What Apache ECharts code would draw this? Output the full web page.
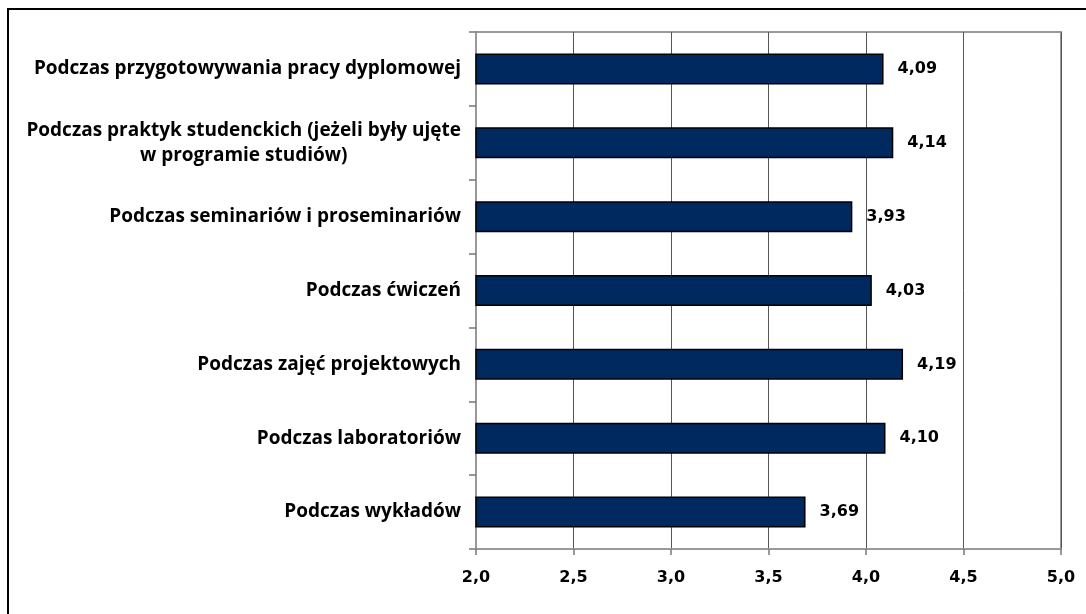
<!DOCTYPE html>
<html>
<head>
<meta charset="utf-8">
<script src="https://cdn.jsdelivr.net/npm/echarts@6/dist/echarts.min.js"></script>
<style>
html,body{margin:0;padding:0;background:#fff;}
#main{width:1086px;height:614px;}
</style>
</head>
<body>
<div id="main"></div>
<script>
const categories = [
  'Podczas przygotowywania pracy dyplomowej',
  'Podczas praktyk studenckich (jeżeli były ujęte\nw programie studiów)',
  'Podczas seminariów i proseminariów',
  'Podczas ćwiczeń',
  'Podczas zajęć projektowych',
  'Podczas laboratoriów',
  'Podczas wykładów'
];
const values = [4.09, 4.14, 3.93, 4.03, 4.19, 4.10, 3.69];
const axisMin = 2.0, axisMax = 5.0, axisStep = 0.5;

const fmt = (v, d) => v.toFixed(d).replace('.', ',');

const chart = echarts.init(document.getElementById('main'), null, {renderer: 'canvas'});
chart.setOption({
  backgroundColor: '#fff',
  animation: false,
  graphic: [{
    type: 'rect', silent: true, z: 100,
    shape: {x: 8, y: 9, width: 1200, height: 800},
    style: {fill: 'none', stroke: '#000', lineWidth: 2}
  }],
  grid: {left: 476, right: 25, top: 32, bottom: 65, show: true, borderColor: '#999', borderWidth: 2, backgroundColor: 'transparent'},
  xAxis: {
    type: 'value', min: axisMin, max: axisMax, interval: axisStep,
    axisLine: {show: true, lineStyle: {color: '#999', width: 2}},
    axisTick: {show: true, length: 6, lineStyle: {color: '#777', width: 1.5}},
    splitLine: {show: true, lineStyle: {color: '#555', width: 1}},
    axisLabel: {
      margin: 21, color: '#000', fontFamily: 'DejaVu Sans', fontWeight: 'bold', fontSize: 16,
      formatter: v => fmt(v, 1)
    }
  },
  yAxis: {
    type: 'category', data: categories, inverse: true,
    axisLine: {show: true, lineStyle: {color: '#999', width: 2}},
    axisTick: {show: true, length: 7, lineStyle: {color: '#777', width: 1.5}},
    splitLine: {show: false},
    axisLabel: {
      margin: 15, color: '#000', fontFamily: 'Open Sans', fontWeight: 'bold', fontSize: 19, lineHeight: 25,
      formatter: v => {
        const parts = v.split('\n');
        if (parts.length === 1) return '{a|' + parts[0] + '}';
        return '{a|' + parts[0] + '}\n{c|' + parts[1] + '}';
      },
      rich: {
        a: {fontFamily: 'Open Sans', fontWeight: 'bold', fontSize: 19, color: '#000', lineHeight: 25},
        c: {fontFamily: 'Open Sans', fontWeight: 'bold', fontSize: 19, color: '#000', lineHeight: 25, align: 'center'}
      }
    }
  },
  series: [{
    type: 'bar', data: values, barWidth: 31,
    itemStyle: {color: '#002960', borderColor: '#000', borderWidth: 1.5},
    label: {
      show: true, position: 'right', distance: 14, color: '#000',
      fontFamily: 'DejaVu Sans', fontWeight: 'bold', fontSize: 16,
      formatter: p => fmt(p.value, 2)
    }
  }]
});
</script>
</body>
</html>
